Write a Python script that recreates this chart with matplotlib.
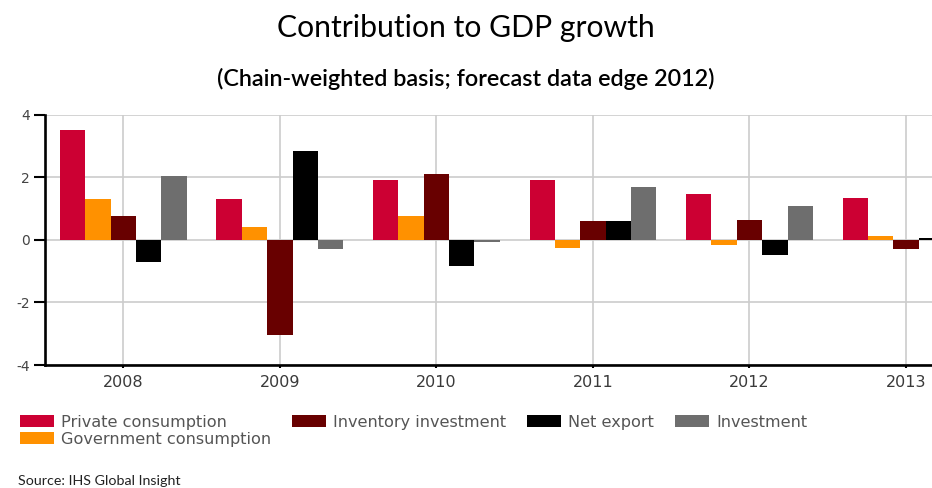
import matplotlib.pyplot as plt
from matplotlib.patches import Patch

plt.rcParams['axes.unicode_minus'] = False

# contribution to GDP growth, percentage points
years = [2008, 2009, 2010, 2011, 2012, 2013]
private = [3.5, 1.3, 1.9, 1.9, 1.45, 1.35]
government = [1.3, 0.4, 0.75, -0.25, -0.18, 0.13]
inventory = [0.75, -3.05, 2.1, 0.6, 0.62, -0.3]
net_export = [-0.7, 2.85, -0.85, 0.6, -0.5, 0.05]
investment = [2.05, -0.3, -0.08, 1.7, 1.08, 0.1]

names = ['Private consumption', 'Government consumption', 'Inventory investment',
         'Net export', 'Investment']
colors = ['#cc0033', '#ff9100', '#680000', '#000000', '#6e6e6e']
series = [private, government, inventory, net_export, investment]

fig = plt.figure(figsize=(9.32, 4.88), dpi=100)
ax = fig.add_axes([0.0483, 0.252, 0.9517, 0.513])  # llx, lly, w, h

width = 0.162
for ix, (vals, col) in enumerate(zip(series, colors)):
    xs = [y + (ix - 2) * width for y in years]
    ax.bar(xs, vals, width=width, color=col, edgecolor='none', zorder=3)

ax.set_xlim(2007.5, 2013.166)
ax.set_ylim(-4, 4)
ax.set_yticks([-4, -2, 0, 2, 4])
ax.set_xticks(years)
ax.set_xticklabels([str(y) for y in years])

ax.grid(True, color='#cccccc', linewidth=1.2, zorder=0)
ax.set_axisbelow(True)
for side in ('top', 'right'):
    ax.spines[side].set_visible(False)
for side in ('left', 'bottom'):
    ax.spines[side].set_linewidth(1.9)
    ax.spines[side].set_color('black')

ax.tick_params(axis='y', length=8, width=1.5, pad=3, labelsize=10, labelcolor='#444444')
ax.tick_params(axis='x', length=2.5, width=1.5, pad=5, labelsize=11.5, labelcolor='#3a3a3a')

fig.text(0.5, 1 - 37 / 488, 'Contribution to GDP growth', ha='center', va='baseline',
         fontsize=21.7, family='Lato', color='black')
fig.text(0.5, 1 - 86 / 488, '(Chain-weighted basis; forecast data edge 2012)',
         ha='center', va='baseline', fontsize=16.8, family='Lato', weight='semibold',
         color='black')

handles = [Patch(facecolor=c, edgecolor='none') for c in colors]
fig.legend(handles, names,
           loc='upper left', bbox_to_anchor=(20 / 932, 1 - 415 / 488), ncol=4,
           frameon=False, borderpad=0, borderaxespad=0, fontsize=11.6,
           handlelength=2.1, handleheight=0.75, handletextpad=0.45,
           columnspacing=1.3, labelspacing=0.1, labelcolor='#555555')

fig.text(18 / 932, 1 - 485 / 488, 'Source: IHS Global Insight', ha='left', va='baseline',
         fontsize=10.3, family=['Liberation Sans Narrow', 'Lato'], color='#222222')

fig.savefig('out.png', dpi=100)
